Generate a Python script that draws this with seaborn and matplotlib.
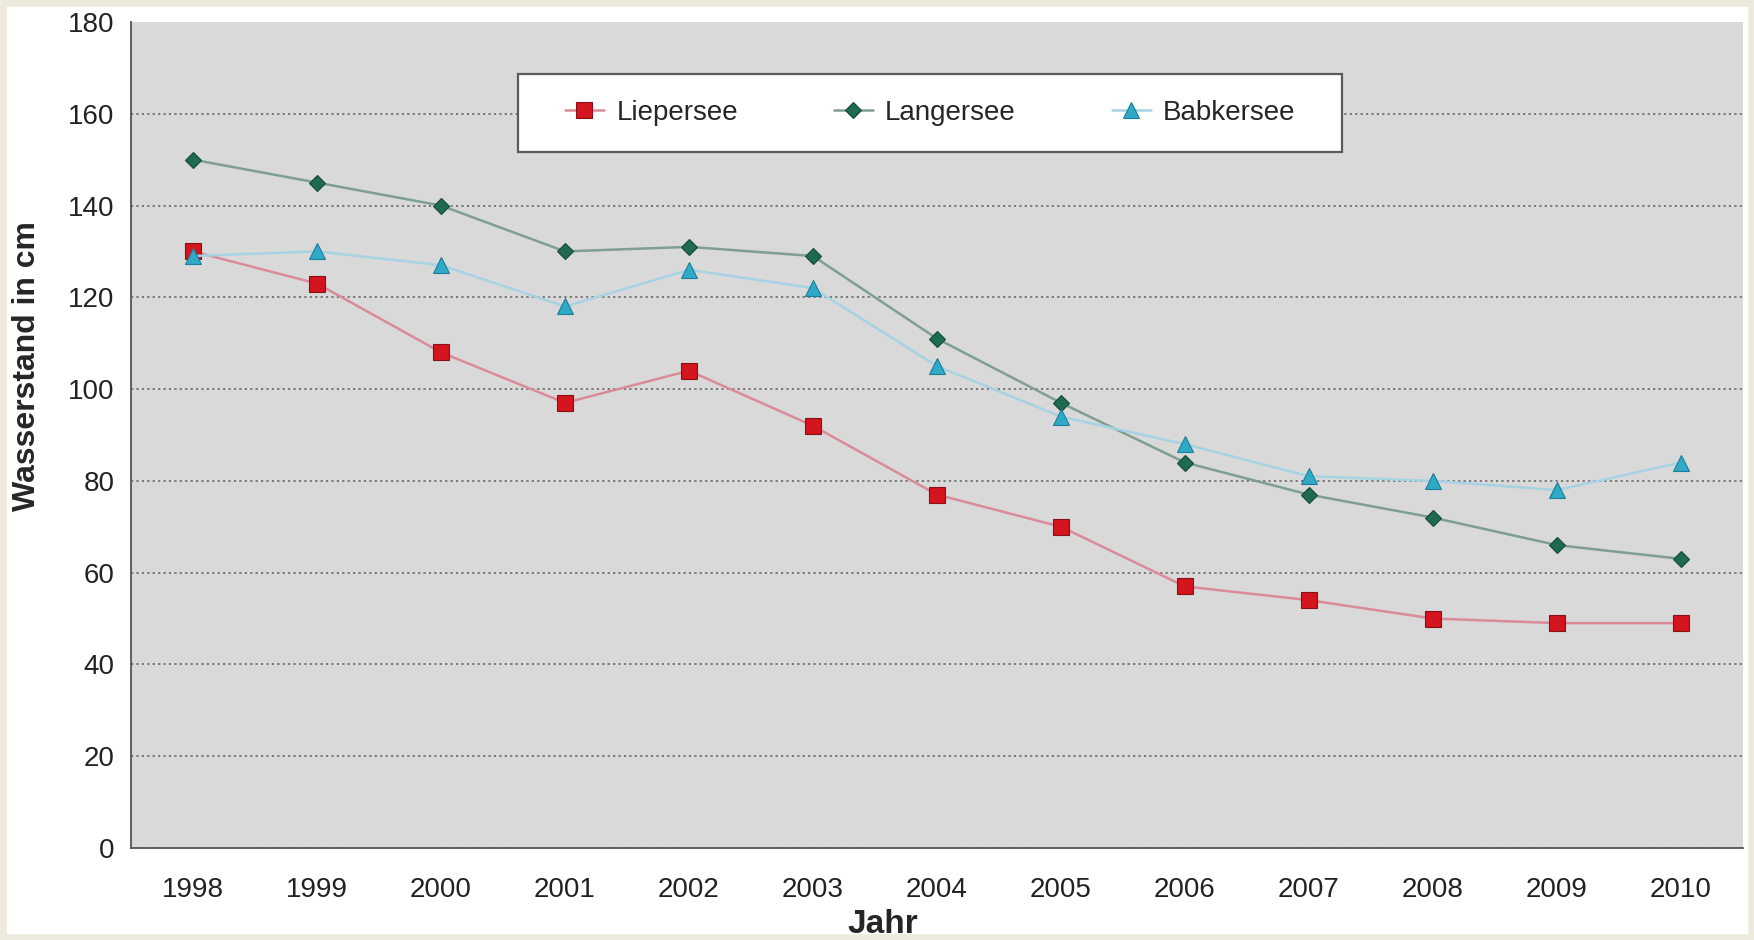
import matplotlib
matplotlib.use("Agg")
import matplotlib.pyplot as plt
import matplotlib.patches as mpatches
import seaborn as sns
import pandas as pd

# Water levels of three lakes, 1998-2010
years = [1998, 1999, 2000, 2001, 2002, 2003, 2004, 2005, 2006, 2007, 2008, 2009, 2010]
liepersee = [130, 123, 108, 97, 104, 92, 77, 70, 57, 54, 50, 49, 49]
langersee = [150, 145, 140, 130, 131, 129, 111, 97, 84, 77, 72, 66, 63]
babkersee = [129, 130, 127, 118, 126, 122, 105, 94, 88, 81, 80, 78, 84]
series_names = ["Liepersee", "Langersee", "Babkersee"]
y_ticks = [0, 20, 40, 60, 80, 100, 120, 140, 160, 180]

df = pd.DataFrame({
    "Jahr": years * 3,
    "Wasserstand": liepersee + langersee + babkersee,
    "See": [series_names[0]] * len(years) + [series_names[1]] * len(years)
           + [series_names[2]] * len(years),
})

sns.set_style("white")
plt.rcParams["font.family"] = ["Liberation Sans", "DejaVu Sans"]

fig = plt.figure(figsize=(17.54, 9.4), dpi=100, facecolor="white")
ax = fig.add_axes([0.0747, 0.0979, 0.9190, 0.8787])
ax.set_facecolor("#d9d9d9")

styles = {
    "Liepersee": dict(line="#d98c98", face="#d4141e", edge="#8a1018", marker="s", ms=11),
    "Langersee": dict(line="#7f9f8f", face="#1f6b52", edge="#154a38", marker="D", ms=8),
    "Babkersee": dict(line="#a6d3e3", face="#2fa9c6", edge="#1a7f99", marker="^", ms=11),
}

for name in series_names:
    st = styles[name]
    sns.lineplot(
        data=df[df["See"] == name], x="Jahr", y="Wasserstand", ax=ax,
        color=st["line"], linewidth=1.8, marker=st["marker"], markersize=st["ms"],
        markerfacecolor=st["face"], markeredgecolor=st["edge"], markeredgewidth=0.8,
        label=name, zorder=3,
    )

# Axis ranges and category-style ticks
ax.set_xlim(years[0] - 0.5, years[-1] + 0.5)
ax.set_ylim(0, 180)
ax.set_xticks(years)
ax.set_xticklabels([str(y) for y in years], fontsize=20, color="#222222")
ax.set_xticks([y - 0.5 for y in years] + [years[-1] + 0.5], minor=True)
ax.tick_params(axis="x", which="major", length=0, pad=21)
ax.tick_params(axis="x", which="minor", length=8, width=1.2, color="#555555", direction="out")
ax.set_yticks(y_ticks)
ax.set_yticklabels([str(v) for v in y_ticks], fontsize=20, color="#222222")
ax.tick_params(axis="y", length=8, width=1.2, color="#555555", direction="out", pad=4)

# Dotted horizontal gridlines (none along the top edge)
ax.yaxis.grid(True, linestyle=(0, (1.2, 1.8)), color="#6f6f6f", linewidth=1.3)
ax.xaxis.grid(False)
ax.set_axisbelow(True)
ax.yaxis.get_gridlines()[-1].set_visible(False)

for side in ["top", "right"]:
    ax.spines[side].set_visible(False)
for side in ["left", "bottom"]:
    ax.spines[side].set_color("#555555")
    ax.spines[side].set_linewidth(1.3)

ax.set_xlabel("Jahr", fontsize=24, fontweight="bold")
ax.xaxis.set_label_coords(0.4665, -0.074)
ax.set_ylabel("Wasserstand in cm", fontsize=23, fontweight="bold")
ax.yaxis.set_label_coords(-0.0555, 0.583)

# Legend box drawn separately so its padding can be set freely
ax.add_patch(mpatches.Rectangle(
    (0.2401, 0.8426), 0.5112, 0.0944, transform=ax.transAxes,
    facecolor="white", edgecolor="#5a5a5a", linewidth=1.6, zorder=4,
))
leg = ax.legend(
    loc="center left", bbox_to_anchor=(0.2692, 0.8898), ncol=3, fontsize=20,
    frameon=False, columnspacing=3.45, handlelength=1.4, handletextpad=0.45,
    borderpad=0, borderaxespad=0,
)
leg.set_zorder(5)

# Thin beige frame around the whole figure
fig.patches.append(mpatches.Rectangle(
    (0, 0), 1, 1, transform=fig.transFigure, fill=False,
    edgecolor="#ede9dc", linewidth=9, zorder=10,
))

fig.savefig("out.png", dpi=100, facecolor=fig.get_facecolor())
